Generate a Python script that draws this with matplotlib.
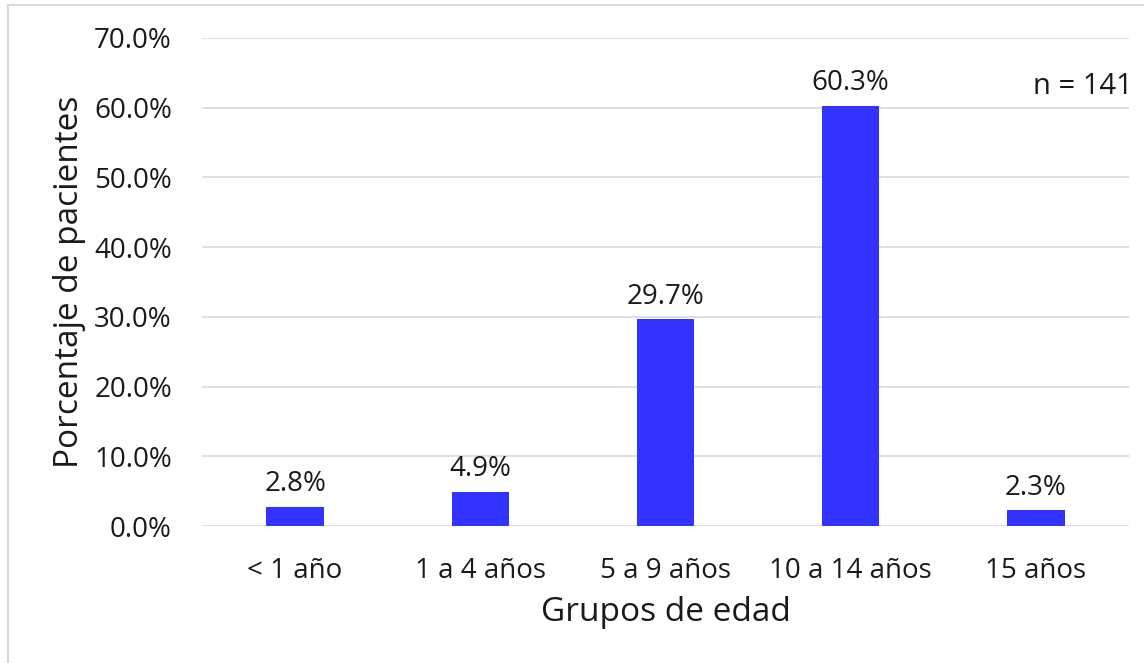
import matplotlib.pyplot as plt
from matplotlib.lines import Line2D
from matplotlib.ticker import FuncFormatter

plt.rcParams['font.family'] = ['Open Sans', 'DejaVu Sans']

categories = ["< 1 año", "1 a 4 años", "5 a 9 años", "10 a 14 años", "15 años"]
values = [2.8, 4.9, 29.7, 60.3, 2.3]
yticks = [0, 10, 20, 30, 40, 50, 60, 70]

fig = plt.figure(figsize=(11.44, 6.63), dpi=100)
ax = fig.add_axes([0.177, 0.2066, 0.8095, 0.7361])

x = range(len(categories))
ax.bar(x, values, width=0.31, color="#3333FF", zorder=3)
for xi, v in zip(x, values):
    ax.text(xi, v + 1.2, f"{v:.1f}%", ha="center", va="bottom", fontsize=20, color="#1a1a1a")

ax.set_xlim(-0.5, len(categories) - 0.5)
ax.set_ylim(0, 70)
ax.set_yticks(yticks)
ax.yaxis.set_major_formatter(FuncFormatter(lambda v, p: f"{v:.1f}%"))
ax.set_xticks(list(x))
ax.set_xticklabels(categories)
ax.tick_params(axis="both", length=0, labelsize=20, colors="#1a1a1a")
ax.tick_params(axis="x", pad=22)
ax.tick_params(axis="y", pad=22)
ax.grid(axis="y", color="#d9d9d9", lw=1.2, zorder=0)
for s in ax.spines.values():
    s.set_visible(False)

ax.set_xlabel("Grupos de edad", fontsize=24, labelpad=8, color="#1a1a1a")
ax.set_ylabel("Porcentaje de pacientes", fontsize=24, labelpad=6, color="#1a1a1a")

ax.text(4.52, 63.0, "n = 141", ha="right", va="center", fontsize=21, color="#1a1a1a")

# chart-area border (left and top edges visible)
fig.add_artist(Line2D([8 / 1144, 8 / 1144], [0, 1 - 5 / 663], color="#d9d9d9", lw=1.5))
fig.add_artist(Line2D([8 / 1144, 1], [1 - 5 / 663, 1 - 5 / 663], color="#d9d9d9", lw=1.5))

fig.savefig("out.png", dpi=100)
